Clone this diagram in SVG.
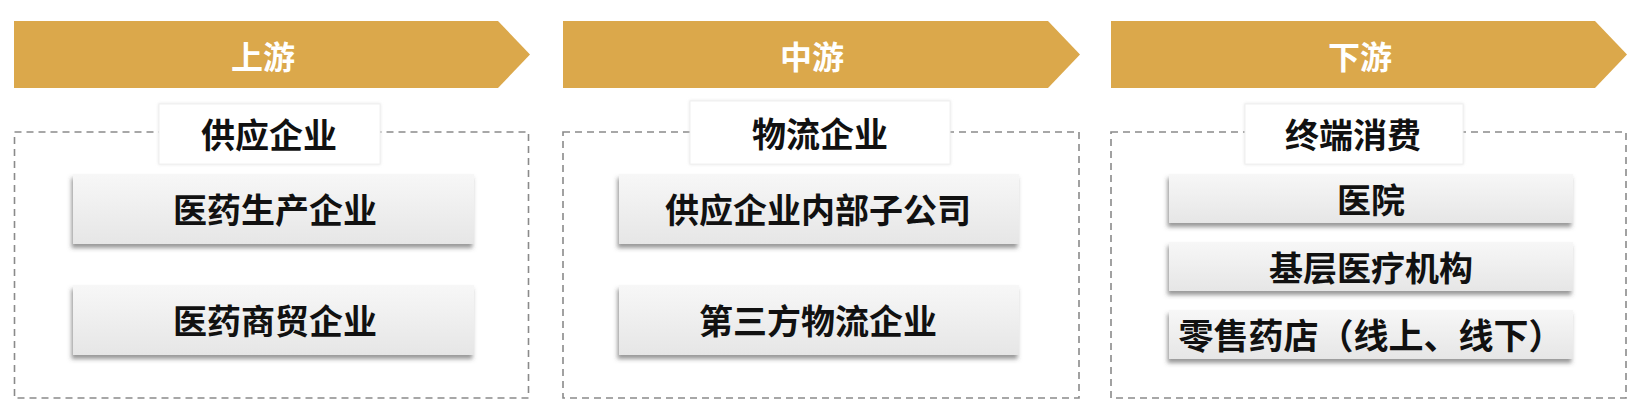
<svg xmlns="http://www.w3.org/2000/svg" width="1644" height="416" viewBox="0 0 1644 416">
<defs>
<linearGradient id="boxg" x1="0" y1="0" x2="0" y2="1">
<stop offset="0" stop-color="#f7f7f7"/>
<stop offset="1" stop-color="#e6e6e6"/>
</linearGradient>
<filter id="sh" x="-5%" y="-20%" width="110%" height="150%">
<feDropShadow dx="-1.5" dy="4" stdDeviation="2" flood-color="#444" flood-opacity="0.55"/>
</filter>
<filter id="lsh" x="-10%" y="-20%" width="120%" height="140%">
<feDropShadow dx="0" dy="0" stdDeviation="1.5" flood-color="#ccc" flood-opacity="0.5"/>
</filter>
<style>
.banner{fill:#DBA84B}
.bt{font-family:"Noto Sans CJK SC","Noto Sans",sans-serif;font-weight:700;font-size:32px;fill:#ffffff;text-anchor:middle;dominant-baseline:central}
.dash{fill:none;stroke:#8a8a8a;stroke-width:1.6;stroke-dasharray:7 5}
.lbl{fill:#ffffff;stroke:#f0f0f0;stroke-width:1}
.box{fill:url(#boxg);filter:url(#sh)}
.t{font-family:"Noto Sans CJK SC","Noto Sans",sans-serif;font-weight:700;font-size:34px;fill:#111111;text-anchor:middle;dominant-baseline:central}
.t2{font-size:35px}
</style>
</defs>

<g id="col-upstream">
<g id="banner-upstream">
<polygon class="banner" points="14,21 498,21 530,54.5 498,88 14,88"/>
<text class="bt" x="263" y="55">上游</text>
</g>
<g id="group-supply">
<rect class="dash" x="14.5" y="132" width="514" height="266"/>
<rect class="lbl" x="159" y="104" width="221" height="60" filter="url(#lsh)"/>
<text class="t" x="269" y="133">供应企业</text>
</g>
<g id="node-manufacture">
<rect class="box" x="73" y="174" width="401" height="70"/>
<text class="t" x="275" y="208">医药生产企业</text>
</g>
<g id="node-trade">
<rect class="box" x="73" y="285" width="401" height="70"/>
<text class="t" x="275" y="319">医药商贸企业</text>
</g>
</g>

<g id="col-midstream">
<g id="banner-midstream">
<polygon class="banner" points="563,21 1048,21 1080,54.5 1048,88 563,88"/>
<text class="bt" x="812" y="55">中游</text>
</g>
<g id="group-logistics">
<rect class="dash" x="563" y="132" width="516" height="266"/>
<rect class="lbl" x="690" y="101" width="260" height="63" filter="url(#lsh)"/>
<text class="t" x="820" y="132">物流企业</text>
</g>
<g id="node-subsidiary">
<rect class="box" x="619" y="174" width="400" height="70"/>
<text class="t" x="818" y="208">供应企业内部子公司</text>
</g>
<g id="node-thirdparty">
<rect class="box" x="619" y="285" width="400" height="70"/>
<text class="t" x="818" y="319">第三方物流企业</text>
</g>
</g>

<g id="col-downstream">
<g id="banner-downstream">
<polygon class="banner" points="1111,21 1595,21 1627,54.5 1595,88 1111,88"/>
<text class="bt" x="1360" y="55">下游</text>
</g>
<g id="group-terminal">
<rect class="dash" x="1111" y="132" width="515" height="266"/>
<rect class="lbl" x="1245" y="104" width="218" height="60" filter="url(#lsh)"/>
<text class="t" x="1353" y="133">终端消费</text>
</g>
<g id="node-hospital">
<rect class="box" x="1169" y="174" width="404" height="49"/>
<text class="t" x="1371" y="198">医院</text>
</g>
<g id="node-primary">
<rect class="box" x="1169" y="242" width="404" height="49"/>
<text class="t" x="1371" y="266">基层医疗机构</text>
</g>
<g id="node-pharmacy">
<rect class="box" x="1169" y="310" width="404" height="49"/>
<text class="t t2" x="1371" y="333">零售药店（线上、线下）</text>
</g>
</g>

<g id="connectors"></g>
</svg>
